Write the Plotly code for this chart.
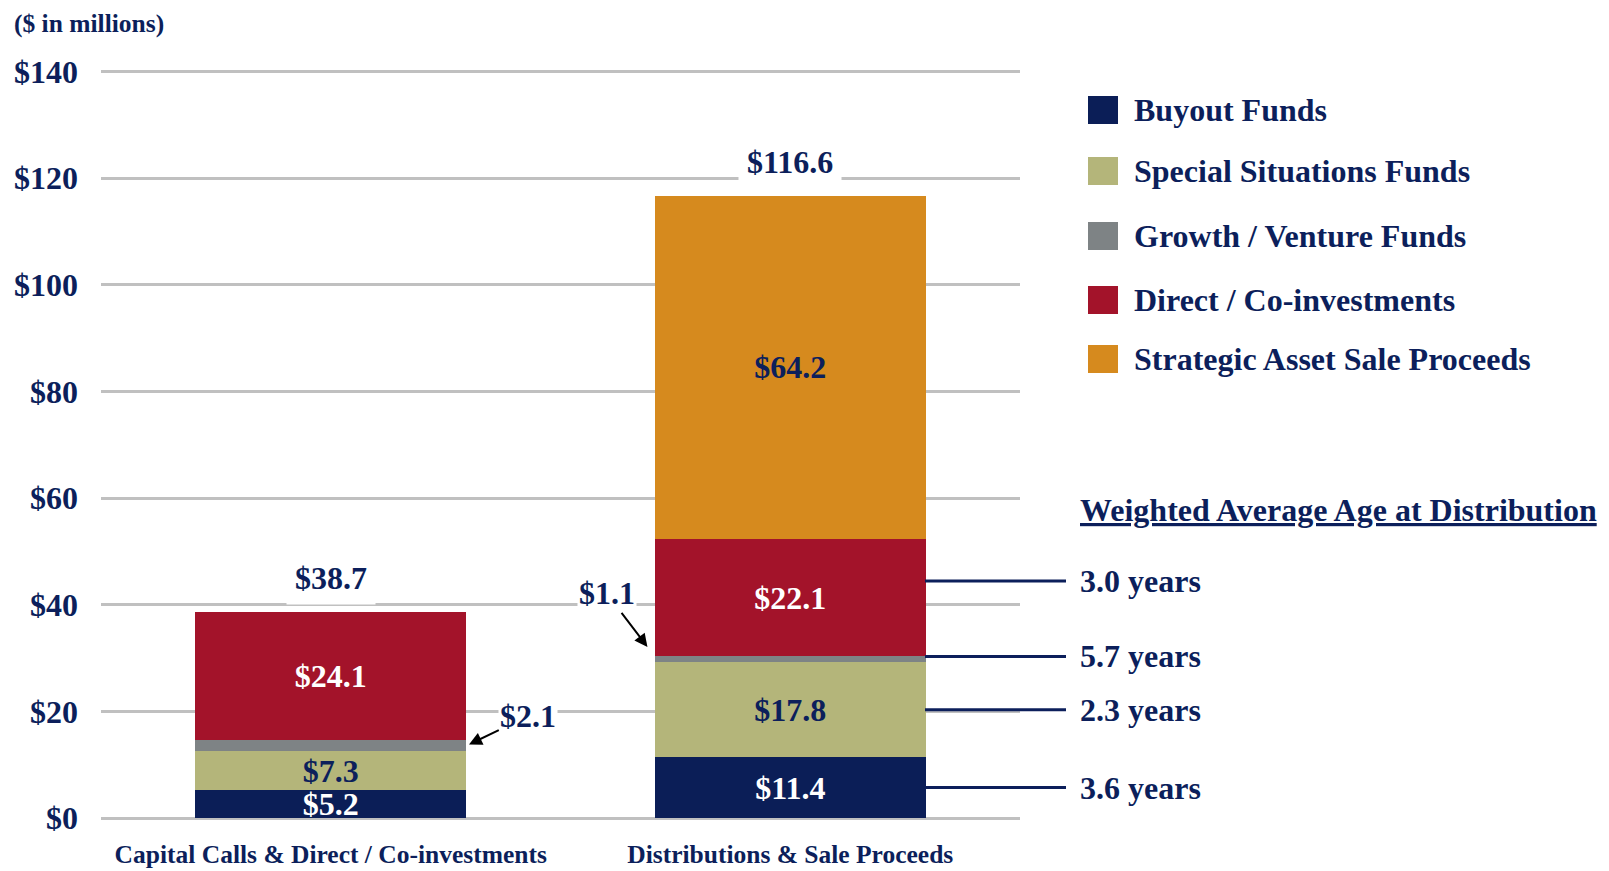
import plotly.graph_objects as go

categories = ["Capital Calls & Direct / Co-investments", "Distributions & Sale Proceeds"]
series_names = ["Buyout Funds", "Special Situations Funds", "Growth / Venture Funds",
                "Direct / Co-investments", "Strategic Asset Sale Proceeds"]
buyout = [5.2, 11.4]
special = [7.3, 17.8]
growth = [2.1, 1.1]
direct = [24.1, 22.1]
strategic = [None, 64.2]
totals = [38.7, 116.6]
age_labels = ["3.6 years", "2.3 years", "5.7 years", "3.0 years"]

NAVY = "#0c1f5b"
colors = ["#0b1e57", "#b4b57a", "#7e8385", "#a3132a", "#d68a1e"]
text_colors = ["white", NAVY, None, "white", NAVY]
FONT = "Liberation Serif, Times New Roman, serif"
FS = 32
# where along each segment the age leader line sits (0 bottom, 1 top)
age_line_frac = [0.5, 0.5, 1.0, 0.64]

# the page body has an 8px margin, so the figure is drawn 8px in from the corner
OFF = 8
W, H = 1609 - OFF, 871 - OFF
# plot area in screen pixels: x 101..1020, y 70..818
X0, X1, Y0, Y1 = 101, 1020, 70, 818
L, T = X0 - OFF, Y0 - OFF
R, B = W - (X1 - OFF), H - (Y1 - OFF)
PW, PH = X1 - X0, Y1 - Y0


def px(x):
    return (x - X0) / PW


def py(y):
    return (Y1 - y) / PH


bargap = 0.41
half = (1 - bargap) / 2

fig = go.Figure()
series = [buyout, special, growth, direct, strategic]
for name, vals, col, tcol in zip(series_names, series, colors, text_colors):
    fig.add_trace(go.Bar(
        x=categories, y=vals, name=name, marker_color=col, marker_line_width=0,
        text=None if tcol is None else [None if v is None else f"${v:.1f}" for v in vals],
        textposition="inside", insidetextanchor="middle", textangle=0,
        textfont=dict(color=tcol or "white", size=FS, family=FONT, weight="bold"),
        showlegend=False,
    ))

ann = []
# totals above bars
for i, t in enumerate(totals):
    ann.append(dict(x=i, y=t, text=f"${t:.1f}", showarrow=False, yanchor="bottom",
                    yshift=7, bgcolor="white", borderpad=8,
                    font=dict(size=FS, color=NAVY)))

# growth labels with arrows
g0_mid = buyout[0] + special[0] + growth[0] / 2
ann.append(dict(x=0 + half, y=g0_mid, text=f"${growth[0]:.1f}", showarrow=True,
                ax=62, ay=-30, arrowhead=2, arrowsize=1.3, arrowwidth=2, arrowcolor="black",
                standoff=3, bgcolor="white", font=dict(size=FS, color=NAVY)))
g1_top = buyout[1] + special[1] + growth[1]
ann.append(dict(x=1 - half, y=g1_top, text=f"${growth[1]:.1f}", showarrow=True,
                ax=-48, ay=-63, arrowhead=2, arrowsize=1.3, arrowwidth=2, arrowcolor="black",
                standoff=12, bgcolor="white", font=dict(size=FS, color=NAVY)))

# y-axis unit note
ann.append(dict(xref="paper", yref="paper", x=px(12), y=py(23), xanchor="left",
                yanchor="middle", text="($ in millions)", showarrow=False,
                font=dict(size=25.5, color=NAVY)))

shapes = []
# custom legend
legend_rows = [110, 171, 236, 300, 359]
for name, col, yy in zip(series_names, colors, legend_rows):
    shapes.append(dict(type="rect", xref="paper", yref="paper", x0=px(1088), x1=px(1118),
                       y0=py(yy + 14), y1=py(yy - 14), fillcolor=col, line_width=0))
    ann.append(dict(xref="paper", yref="paper", x=px(1132), y=py(yy), xanchor="left",
                    yanchor="middle", text=name, showarrow=False,
                    font=dict(size=FS, color=NAVY)))

# weighted average age
ann.append(dict(xref="paper", yref="paper", x=px(1078), y=py(510), xanchor="left",
                yanchor="middle", text="<u>Weighted Average Age at Distribution</u>",
                showarrow=False, font=dict(size=FS, color=NAVY)))
stack = [buyout[1], special[1], growth[1], direct[1]]
base = 0
for v, lab, f in zip(stack, age_labels, age_line_frac):
    ly = base + v * f
    base += v
    shapes.append(dict(type="line", xref="paper", yref="y", x0=px(925), x1=px(1066),
                       y0=ly, y1=ly, line=dict(color=NAVY, width=3)))
    ann.append(dict(xref="paper", yref="y", x=px(1078), y=ly, xanchor="left",
                    yanchor="middle", text=lab, showarrow=False,
                    font=dict(size=FS, color=NAVY)))

fig.update_layout(
    width=W, height=H,
    margin=dict(l=L, r=R, t=T, b=B),
    barmode="stack", bargap=bargap,
    plot_bgcolor="white", paper_bgcolor="white",
    font=dict(family=FONT, weight="bold", color=NAVY),
    uniformtext=dict(minsize=FS, mode="show"),
    annotations=ann, shapes=shapes,
    xaxis=dict(showgrid=False, ticks="", showline=False, automargin=False,
               tickfont=dict(size=25.5, color=NAVY), ticklabelstandoff=18),
    yaxis=dict(range=[0, 140.3], dtick=20, tickprefix="$", showgrid=True,
               gridcolor="#c0c0c0", gridwidth=3, zeroline=True, zerolinecolor="#c0c0c0",
               zerolinewidth=3, showline=False, ticks="", automargin=False,
               tickfont=dict(size=FS, color=NAVY), ticklabelstandoff=22),
)

fig.write_html("out.html")
